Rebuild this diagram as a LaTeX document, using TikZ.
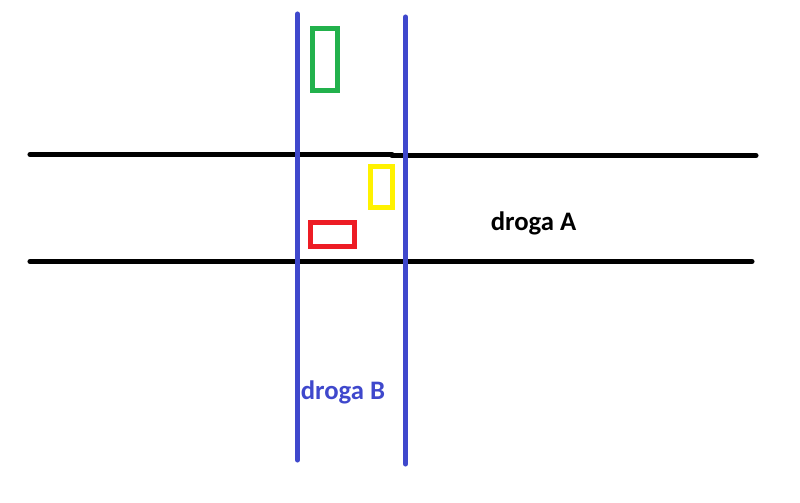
\documentclass[tikz,border=0pt]{standalone}
\usepackage{fontspec}
\setmainfont{Carlito}
\usetikzlibrary{positioning}

\definecolor{roadB}{RGB}{63,72,204}
\definecolor{carG}{RGB}{34,177,76}
\definecolor{carY}{RGB}{255,242,0}
\definecolor{carR}{RGB}{237,28,36}

\tikzset{
    road/.style = {line width = 3.6pt, line cap = round},
    car/.style = {line width = 3.6pt},
    label/.style = {font = \fontsize{19}{21}\selectfont\bfseries, inner sep = 0pt, anchor = base west}
}

\begin{document}
\begin{tikzpicture}[x = 0.025cm, y = -0.025cm]
    \useasboundingbox (0,0) rectangle (800,502);

    % droga A
    \draw[road] (30,154.5) coordinate (a1) -- (392,154.5) coordinate (a2);
    \draw[road] (392,155.5) coordinate (a3) -- (756,155.5) coordinate (a4);
    \draw[road] (30,261.5) coordinate (a5) -- (752,261.5) coordinate (a6);

    % droga B
    \draw[road, roadB] (297.5,14) coordinate (b1) -- (297.5,460) coordinate (b2);
    \draw[road, roadB] (405.5,17) coordinate (b3) -- (405.5,464) coordinate (b4);

    % samochody
    \draw[car, carG] (312.5,28.5) rectangle (337.5,90.5);
    \draw[car, carY] (370.5,166.5) rectangle (392.5,207.5);
    \draw[car, carR] (310.5,222.5) rectangle (354.5,246.5);

    \node[label] (dA) at (490.5,230) {droga A};
    \node[label, roadB] (dB) at (300.5,399) {droga B};
\end{tikzpicture}
\end{document}
